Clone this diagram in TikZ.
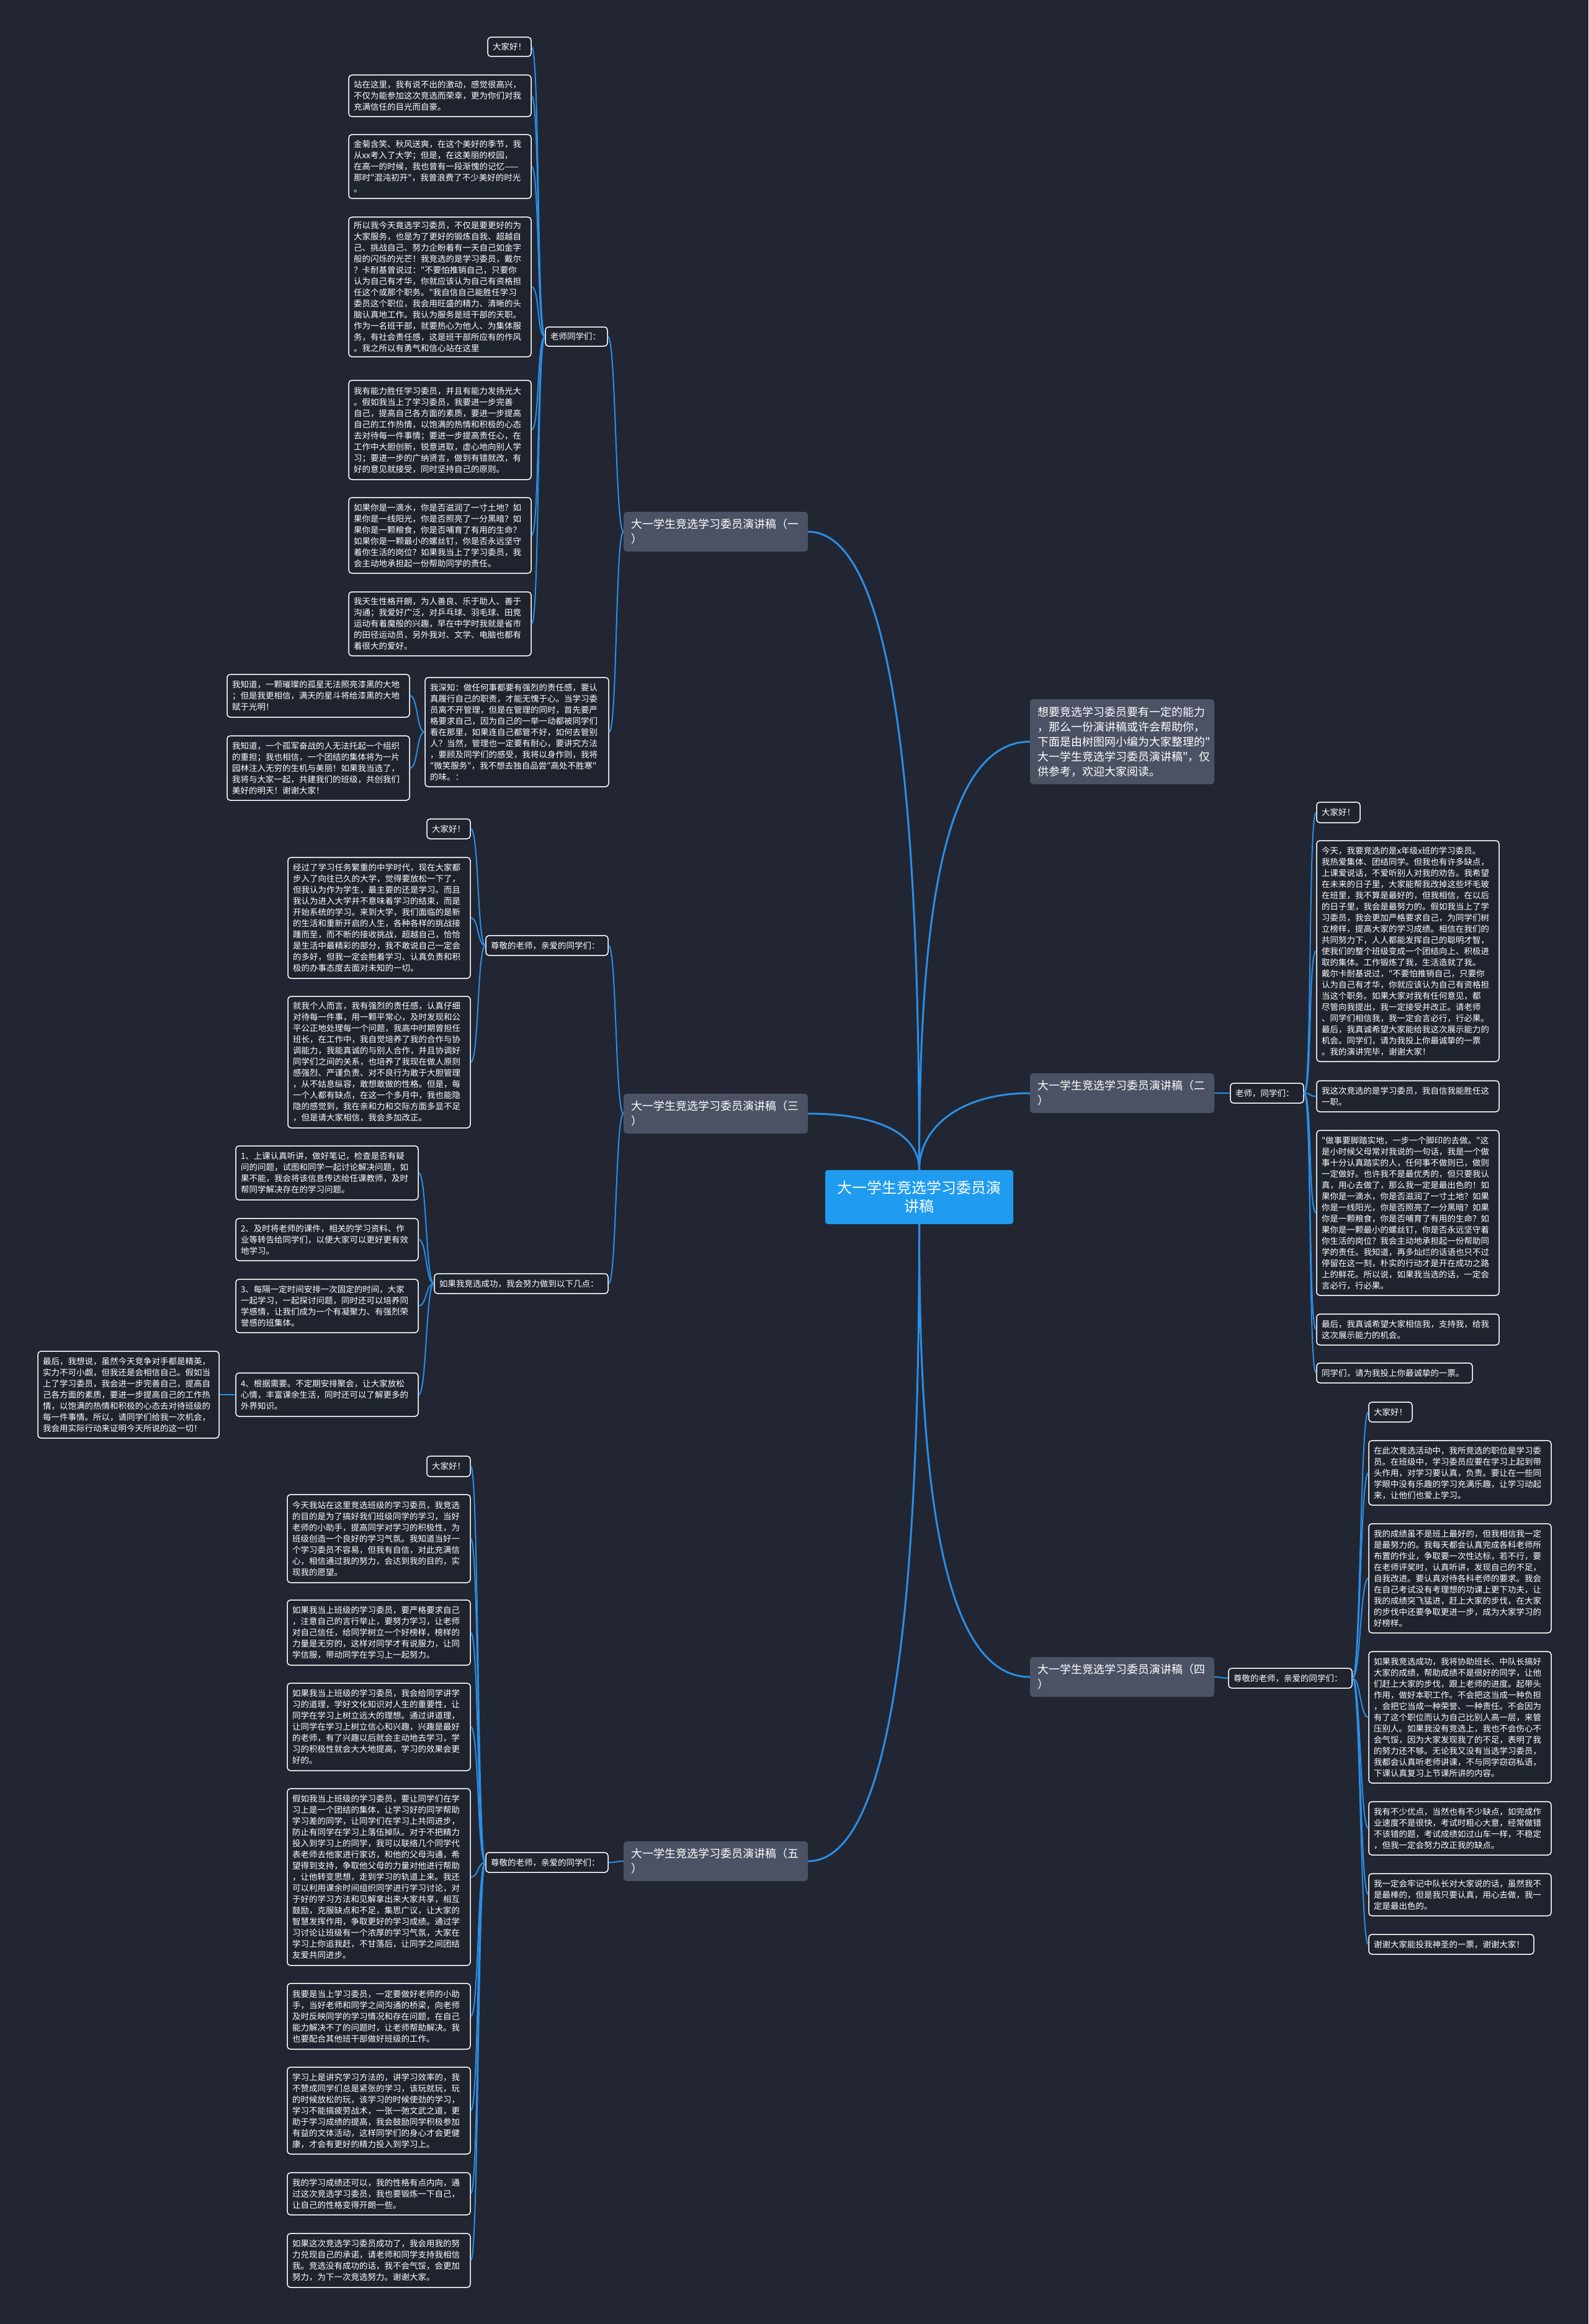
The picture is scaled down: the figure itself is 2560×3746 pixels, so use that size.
\documentclass[tikz,border=0pt]{standalone}
\usepackage{fontspec}
\newfontfamily\cjkf{Noto Sans CJK SC}
\definecolor{bgc}{HTML}{222632}
\definecolor{leaffill}{HTML}{1F232E}
\definecolor{graybox}{HTML}{4B5264}
\definecolor{rootc}{HTML}{1F9BF0}
\definecolor{linkc}{HTML}{2A8FE8}
\newcommand\fleaf{\cjkf\fontsize{13.5}{18}\selectfont}
\newcommand\fbig{\cjkf\fontsize{18}{24}\selectfont}
\newcommand\froot{\cjkf\fontsize{24}{30}\selectfont}
\newcommand\bx[8]{%
  \pgfmathsetmacro\bxw{#6-#4-2*#2}%
  \pgfmathsetmacro\bxh{#7-#5}%
  \pgfmathsetmacro\bxcx{(#4+#6)/2}%
  \pgfmathsetmacro\bxcy{(#5+#7)/2}%
  \node[#1, inner xsep=#2pt, inner ysep=2pt, text width=\bxw pt, minimum height=\bxh pt] (#3) at (\bxcx,\bxcy) {#8};%
}
\newcommand\lk[2]{\draw[linkline] (#1.west) .. controls +(-13,0) and +(13,0) .. (#2.east);}
\newcommand\rk[2]{\draw[linkline] (#1.east) .. controls +(13,0) and +(-13,0) .. (#2.west);}
\tikzset{
  leafbox/.style={draw=white, line width=1.5pt, fill=leaffill, rounded corners=5pt, text=white, font=\fleaf, align=left},
  graynode/.style={fill=graybox, rounded corners=5pt, text=white, font=\fbig, align=left},
  rootbox/.style={fill=rootc, rounded corners=4pt, text=white, font=\froot, align=center},
  linkline/.style={draw=linkc, line width=2pt},
  mainline/.style={draw=linkc, line width=3pt}
}
\begin{document}
\begin{tikzpicture}[x=1pt,y=-1pt]
\useasboundingbox (0,0) rectangle (2560,3746);
\fill[bgc] (0,0) rectangle (2560,3746);

% root
\bx{rootbox}{18}{root}{1330}{1886}{1633}{1973}{大一学生竞选学习委员演\\讲稿}

% ===== branch 1 =====
\bx{graynode}{12}{b1}{1005}{825}{1302}{889}{大一学生竞选学习委员演讲稿（一\\）}
\bx{leafbox}{8}{s1a}{879}{527}{979}{558}{老师同学们：}
\bx{leafbox}{8}{s1b}{685}{1092}{981}{1268}{我深知：做任何事都要有强烈的责任感，要认\\真履行自己的职责，才能无愧于心。当学习委\\员离不开管理，但是在管理的同时，首先要严\\格要求自己，因为自己的一举一动都被同学们\\看在那里，如果连自己都管不好，如何去管别\\人？当然，管理也一定要有耐心，要讲究方法\\，要顾及同学们的感受，我将以身作则，我将\\"微笑服务"，我不想去独自品尝"高处不胜寒"\\的味。：}
\bx{leafbox}{8}{l1a}{786}{60}{856}{91}{大家好！}
\bx{leafbox}{8}{l1b}{562}{121}{856}{188}{站在这里，我有说不出的激动，感觉很高兴，\\不仅为能参加这次竞选而荣幸，更为你们对我\\充满信任的目光而自豪。}
\bx{leafbox}{8}{l1c}{562}{217}{856}{320}{金菊含笑、秋风送爽，在这个美好的季节，我\\从xx考入了大学；但是，在这美丽的校园，\\在高一的时候，我也曾有一段渐愧的记忆——\\那时"混沌初开"，我曾浪费了不少美好的时光\\。}
\bx{leafbox}{8}{l1d}{562}{350}{856}{575}{所以我今天竟选学习委员，不仅是要更好的为\\大家服务，也是为了更好的锻炼自我、超越自\\己、挑战自己、努力企盼着有一天自己如金字\\般的闪烁的光芒！我竞选的是学习委员，戴尔\\？卡耐基曾说过："不要怕推销自己，只要你\\认为自己有才华，你就应该认为自己有资格担\\任这个或那个职务。"我自信自己能胜任学习\\委员这个职位，我会用旺盛的精力、清晰的头\\脑认真地工作。我认为服务是班干部的天职。\\作为一名班干部，就要热心为他人、为集体服\\务，有社会责任感，这是班干部所应有的作风\\。我之所以有勇气和信心站在这里}
\bx{leafbox}{8}{l1e}{562}{613}{856}{773}{我有能力胜任学习委员，并且有能力发扬光大\\。假如我当上了学习委员，我要进一步完善\\自己，提高自己各方面的素质，要进一步提高\\自己的工作热情，以饱满的热情和积极的心态\\去对待每一件事情；要进一步提高责任心，在\\工作中大胆创新，锐意进取，虚心地向别人学\\习；要进一步的广纳贤言，做到有错就改，有\\好的意见就接受，同时坚持自己的原则。}
\bx{leafbox}{8}{l1f}{562}{802}{856}{924}{如果你是一滴水，你是否滋润了一寸土地？如\\果你是一线阳光，你是否照亮了一分黑暗？如\\果你是一颗粮食，你是否哺育了有用的生命？\\如果你是一颗最小的螺丝钉，你是否永远坚守\\着你生活的岗位？如果我当上了学习委员，我\\会主动地承担起一份帮助同学的责任。}
\bx{leafbox}{8}{l1g}{562}{954}{856}{1057}{我天生性格开朗，为人善良、乐于助人、善于\\沟通；我爱好广泛，对乒乓球、羽毛球、田竞\\运动有着魔般的兴趣，早在中学时我就是省市\\的田径运动员，另外我对、文学、电脑也都有\\着很大的爱好。}
\bx{leafbox}{8}{k1a}{366}{1087}{660}{1156}{我知道，一颗璀璨的孤星无法照亮漆黑的大地\\；但是我更相信，满天的星斗将给漆黑的大地\\赋于光明！}
\bx{leafbox}{8}{k1b}{366}{1186}{660}{1290}{我知道，一个孤军奋战的人无法托起一个组织\\的重担；我也相信，一个团结的集体将为一片\\园林注入无穷的生机与美丽！如果我当选了，\\我将与大家一起，共建我们的班级，共创我们\\美好的明天！谢谢大家！}

% ===== branch 3 =====
\bx{graynode}{12}{b3}{1005}{1763}{1302}{1827}{大一学生竞选学习委员演讲稿（三\\）}
\bx{leafbox}{8}{s3a}{783}{1508}{980}{1540}{尊敬的老师，亲爱的同学们：}
\bx{leafbox}{8}{s3b}{700}{2053}{980}{2085}{如果我竞选成功，我会努力做到以下几点：}
\bx{leafbox}{8}{l3a}{688}{1320}{758}{1352}{大家好！}
\bx{leafbox}{8}{l3b}{464}{1382}{758}{1577}{经过了学习任务繁重的中学时代，现在大家都\\步入了向往已久的大学，觉得要放松一下了，\\但我认为作为学生，最主要的还是学习。而且\\我认为进入大学并不意味着学习的结束，而是\\开始系统的学习。来到大学，我们面临的是新\\的生活和重新开启的人生，各种各样的挑战接\\踵而至，而不断的接收挑战，超越自己，恰恰\\是生活中最精彩的部分，我不敢说自己一定会\\的多好，但我一定会抱着学习、认真负责和积\\极的办事态度去面对未知的一切。}
\bx{leafbox}{8}{l3c}{464}{1606}{758}{1818}{就我个人而言，我有强烈的责任感，认真仔细\\对待每一件事，用一颗平常心，及时发现和公\\平公正地处理每一个问题，我高中时期曾担任\\班长，在工作中，我自觉培养了我的合作与协\\调能力，我能真诚的与别人合作，并且协调好\\同学们之间的关系，也培养了我现在做人原则\\感强烈、严谨负责、对不良行为敢于大胆管理\\，从不姑息纵容，敢想敢做的性格。但是，每\\一个人都有缺点，在这一个多月中，我也能隐\\隐的感觉到，我在亲和力和交际方面多显不足\\，但是请大家相信，我会多加改正。}
\bx{leafbox}{8}{m1}{380}{1847}{674}{1934}{1、上课认真听讲，做好笔记，检查是否有疑\\问的问题，试图和同学一起讨论解决问题，如\\果不能，我会将该信息传达给任课教师，及时\\帮同学解决存在的学习问题。}
\bx{leafbox}{8}{m2}{380}{1964}{674}{2032}{2、及时将老师的课件，相关的学习资料、作\\业等转告给同学们，以便大家可以更好更有效\\地学习。}
\bx{leafbox}{8}{m3}{380}{2062}{674}{2148}{3、每隔一定时间安排一次固定的时间，大家\\一起学习，一起探讨问题，同时还可以培养同\\学感情，让我们成为一个有凝聚力、有强烈荣\\誉感的班集体。}
\bx{leafbox}{8}{m4}{380}{2213}{674}{2283}{4、根据需要。不定期安排聚会，让大家放松\\心情，丰富课余生活，同时还可以了解更多的\\外界知识。}
\bx{leafbox}{8}{m5}{61}{2178}{353}{2318}{最后，我想说，虽然今天竞争对手都是精英，\\实力不可小觑，但我还是会相信自己。假如当\\上了学习委员，我会进一步完善自己，提高自\\己各方面的素质，要进一步提高自己的工作热\\情，以饱满的热情和积极的心态去对待班级的\\每一件事情。所以，请同学们给我一次机会，\\我会用实际行动来证明今天所说的这一切！}

% ===== branch 5 =====
\bx{graynode}{12}{b5}{1005}{2968}{1302}{3032}{大一学生竞选学习委员演讲稿（五\\）}
\bx{leafbox}{8}{s5}{783}{2986}{980}{3018}{尊敬的老师，亲爱的同学们：}
\bx{leafbox}{8}{n1}{688}{2347}{758}{2380}{大家好！}
\bx{leafbox}{8}{n2}{463}{2409}{758}{2551}{今天我站在这里竞选班级的学习委员，我竞选\\的目的是为了搞好我们班级同学的学习，当好\\老师的小助手，提高同学对学习的积极性，为\\班级创造一个良好的学习气氛。我知道当好一\\个学习委员不容易，但我有自信，对此充满信\\心，相信通过我的努力，会达到我的目的，实\\现我的愿望。}
\bx{leafbox}{8}{n3}{463}{2579}{758}{2684}{如果我当上班级的学习委员，要严格要求自己\\，注意自己的言行举止，要努力学习，让老师\\对自己信任，给同学树立一个好榜样，榜样的\\力量是无穷的，这样对同学才有说服力，让同\\学信服，带动同学在学习上一起努力。}
\bx{leafbox}{8}{n4}{463}{2713}{758}{2854}{如果我当上班级的学习委员，我会给同学讲学\\习的道理，学好文化知识对人生的重要性，让\\同学在学习上树立远大的理想。通过讲道理，\\让同学在学习上树立信心和兴趣，兴趣是最好\\的老师，有了兴趣以后就会主动地去学习，学\\习的积极性就会大大地提高，学习的效果会更\\好的。}
\bx{leafbox}{8}{n5}{463}{2883}{758}{3168}{假如我当上班级的学习委员，要让同学们在学\\习上是一个团结的集体，让学习好的同学帮助\\学习差的同学，让同学们在学习上共同进步，\\防止有同学在学习上落伍掉队。对于不把精力\\投入到学习上的同学，我可以联络几个同学代\\表老师去他家进行家访，和他的父母沟通，希\\望得到支持，争取他父母的力量对他进行帮助\\，让他转变思想，走到学习的轨道上来。我还\\可以利用课余时间组织同学进行学习讨论，对\\于好的学习方法和见解拿出来大家共享，相互\\鼓励，克服缺点和不足，集思广议，让大家的\\智慧发挥作用，争取更好的学习成绩。通过学\\习讨论让班级有一个浓厚的学习气氛，大家在\\学习上你追我赶，不甘落后，让同学之间团结\\友爱共同进步。}
\bx{leafbox}{8}{n6}{463}{3197}{758}{3303}{我要是当上学习委员，一定要做好老师的小助\\手，当好老师和同学之间沟通的桥梁，向老师\\及时反映同学的学习情况和存在问题，在自己\\能力解决不了的问题时，让老师帮助解决。我\\也要配合其他班干部做好班级的工作。}
\bx{leafbox}{8}{n7}{463}{3332}{758}{3472}{学习上是讲究学习方法的，讲学习效率的，我\\不赞成同学们总是紧张的学习，该玩就玩，玩\\的时候放松的玩，该学习的时候使劲的学习，\\学习不能搞疲劳战术，一张一弛文武之道，更\\助于学习成绩的提高，我会鼓励同学积极参加\\有益的文体活动，这样同学们的身心才会更健\\康，才会有更好的精力投入到学习上。}
\bx{leafbox}{8}{n8}{463}{3502}{758}{3570}{我的学习成绩还可以，我的性格有点内向，通\\过这次竞选学习委员，我也要锻炼一下自己，\\让自己的性格变得开朗一些。}
\bx{leafbox}{8}{n9}{463}{3600}{758}{3687}{如果这次竞选学习委员成功了，我会用我的努\\力兑现自己的承诺，请老师和同学支持我相信\\我。竞选没有成功的话，我不会气馁，会更加\\努力，为下一次竞选努力。谢谢大家。}

% ===== intro & branch 2 =====
\bx{graynode}{12}{intro}{1660}{1127}{1957}{1264}{想要竞选学习委员要有一定的能力\\，那么一份演讲稿或许会帮助你，\\下面是由树图网小编为大家整理的"\\大一学生竞选学习委员演讲稿"，仅\\供参考，欢迎大家阅读。}
\bx{graynode}{12}{b2}{1660}{1730}{1957}{1794}{大一学生竞选学习委员演讲稿（二\\）}
\bx{leafbox}{8}{s2}{1983}{1746}{2101}{1778}{老师，同学们：}
\bx{leafbox}{8}{r1}{2122}{1293}{2192}{1326}{大家好！}
\bx{leafbox}{8}{r2}{2122}{1355}{2416}{1711}{今天，我要竞选的是x年级x班的学习委员。\\我热爱集体、团结同学。但我也有许多缺点，\\上课爱说话，不爱听别人对我的劝告。我希望\\在未来的日子里，大家能帮我改掉这些坏毛玻\\在班里，我不算是最好的，但我相信，在以后\\的日子里，我会是最努力的。假如我当上了学\\习委员，我会更加严格要求自己，为同学们树\\立榜样，提高大家的学习成绩。相信在我们的\\共同努力下，人人都能发挥自己的聪明才智，\\使我们的整个班级变成一个团结向上、积极进\\取的集体。工作锻炼了我，生活造就了我。\\戴尔卡耐基说过，"不要怕推销自己，只要你\\认为自己有才华，你就应该认为自己有资格担\\当这个职务。如果大家对我有任何意见，都\\尽管向我提出，我一定接受并改正。请老师\\、同学们相信我，我一定会言必行，行必果。\\最后，我真诚希望大家能给我这次展示能力的\\机会。同学们，请为我投上你最诚挚的一票\\。我的演讲完毕，谢谢大家！}
\bx{leafbox}{8}{r3}{2122}{1742}{2416}{1792}{我这次竞选的是学习委员，我自信我能胜任这\\一职。}
\bx{leafbox}{8}{r4}{2122}{1822}{2416}{2088}{"做事要脚踏实地，一步一个脚印的去做。"这\\是小时候父母常对我说的一句话，我是一个做\\事十分认真踏实的人，任何事不做则已，做则\\一定做好。也许我不是最优秀的，但只要我认\\真，用心去做了，那么我一定是最出色的！如\\果你是一滴水，你是否滋润了一寸土地？如果\\你是一线阳光，你是否照亮了一分黑暗？如果\\你是一颗粮食，你是否哺育了有用的生命？如\\果你是一颗最小的螺丝钉，你是否永远坚守着\\你生活的岗位？我会主动地承担起一份帮助同\\学的责任。我知道，再多灿烂的话语也只不过\\停留在这一刻，朴实的行动才是开在成功之路\\上的鲜花。所以说，如果我当选的话，一定会\\言必行，行必果。}
\bx{leafbox}{8}{r5}{2122}{2118}{2416}{2168}{最后，我真诚希望大家相信我，支持我，给我\\这次展示能力的机会。}
\bx{leafbox}{8}{r6}{2122}{2197}{2373}{2229}{同学们，请为我投上你最诚挚的一票。}

% ===== branch 4 =====
\bx{graynode}{12}{b4}{1660}{2671}{1957}{2735}{大一学生竞选学习委员演讲稿（四\\）}
\bx{leafbox}{8}{s4}{1980}{2689}{2179}{2721}{尊敬的老师，亲爱的同学们：}
\bx{leafbox}{8}{q1}{2206}{2260}{2276}{2292}{大家好！}
\bx{leafbox}{8}{q2}{2206}{2322}{2500}{2426}{在此次竞选活动中，我所竞选的职位是学习委\\员。在班级中，学习委员应要在学习上起到带\\头作用，对学习要认真，负责。要让在一些同\\学眼中没有乐趣的学习充满乐趣，让学习动起\\来，让他们也爱上学习。}
\bx{leafbox}{8}{q3}{2206}{2456}{2500}{2632}{我的成绩虽不是班上最好的，但我相信我一定\\是最努力的。我每天都会认真完成各科老师所\\布置的作业，争取要一次性达标，若不行，要\\在老师评奖时，认真听讲，发现自己的不足，\\自我改进。要认真对待各科老师的要求。我会\\在自己考试没有考理想的功课上更下功夫，让\\我的成绩突飞猛进，赶上大家的步伐，在大家\\的步伐中还要争取更进一步，成为大家学习的\\好榜样。}
\bx{leafbox}{8}{q4}{2206}{2662}{2500}{2874}{如果我竞选成功，我将协助班长、中队长搞好\\大家的成绩，帮助成绩不是很好的同学，让他\\们赶上大家的步伐，跟上老师的进度。起带头\\作用，做好本职工作。不会把这当成一种负担\\，会把它当成一种荣誉、一种责任。不会因为\\有了这个职位而认为自己比别人高一层，来管\\压别人。如果我没有竞选上，我也不会伤心不\\会气馁，因为大家发现我了的不足，表明了我\\的努力还不够。无论我又没有当选学习委员，\\我都会认真听老师讲课，不与同学窃窃私语，\\下课认真复习上节课所讲的内容。}
\bx{leafbox}{8}{q5}{2206}{2904}{2500}{2990}{我有不少优点，当然也有不少缺点，如完成作\\业速度不是很快，考试时粗心大意，经常做错\\不该错的题，考试成绩如过山车一样，不稳定\\，但我一定会努力改正我的缺点。}
\bx{leafbox}{8}{q6}{2206}{3020}{2500}{3088}{我一定会牢记中队长对大家说的话，虽然我不\\是最棒的，但是我只要认真，用心去做，我一\\定是最出色的。}
\bx{leafbox}{8}{q7}{2206}{3118}{2472}{3150}{谢谢大家能投我神圣的一票，谢谢大家！}

% ===== main connectors =====
\draw[mainline] (root.north) .. controls +(0,-520) and +(150,0) .. (b1.east);
\draw[mainline] (root.north) .. controls +(0,-60) and +(110,0) .. (b3.east);
\draw[mainline] (root.south) .. controls +(0,520) and +(150,0) .. (b5.east);
\draw[mainline] (root.north) .. controls +(0,-360) and +(-150,0) .. (intro.west);
\draw[mainline] (root.north) .. controls +(0,-70) and +(-110,0) .. (b2.west);
\draw[mainline] (root.south) .. controls +(0,380) and +(-150,0) .. (b4.west);

% ===== sub connectors =====
\lk{b1}{s1a} \lk{b1}{s1b}
\lk{s1a}{l1a} \lk{s1a}{l1b} \lk{s1a}{l1c} \lk{s1a}{l1d} \lk{s1a}{l1e} \lk{s1a}{l1f} \lk{s1a}{l1g}
\lk{s1b}{k1a} \lk{s1b}{k1b}
\lk{b3}{s3a} \lk{b3}{s3b}
\lk{s3a}{l3a} \lk{s3a}{l3b} \lk{s3a}{l3c}
\lk{s3b}{m1} \lk{s3b}{m2} \lk{s3b}{m3} \lk{s3b}{m4}
\lk{m4}{m5}
\lk{b5}{s5}
\lk{s5}{n1} \lk{s5}{n2} \lk{s5}{n3} \lk{s5}{n4} \lk{s5}{n5} \lk{s5}{n6} \lk{s5}{n7} \lk{s5}{n8} \lk{s5}{n9}
\rk{b2}{s2}
\rk{s2}{r1} \rk{s2}{r2} \rk{s2}{r3} \rk{s2}{r4} \rk{s2}{r5} \rk{s2}{r6}
\rk{b4}{s4}
\rk{s4}{q1} \rk{s4}{q2} \rk{s4}{q3} \rk{s4}{q4} \rk{s4}{q5} \rk{s4}{q6} \rk{s4}{q7}
\end{tikzpicture}
\end{document}
